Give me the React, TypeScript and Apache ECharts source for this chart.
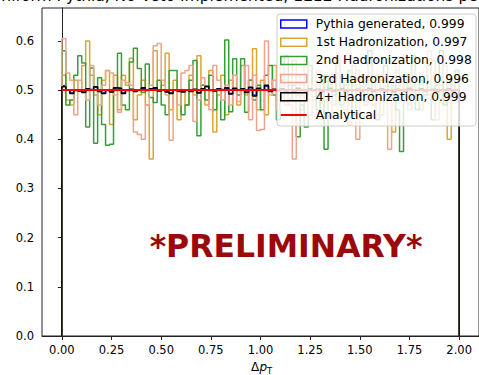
import React, { useEffect, useRef } from "react";
import * as echarts from "echarts";

const BIN_MIN = 0;
const BIN_MAX = 2;

const xTicks = [0, 0.25, 0.5, 0.75, 1.0, 1.25, 1.5, 1.75, 2.0];
const yTicks = [0, 0.1, 0.2, 0.3, 0.4, 0.5, 0.6];

const seriesNames = [
  "Pythia generated, 0.999",
  "1st Hadronization, 0.997",
  "2nd Hadronization, 0.998",
  "3rd Hadronization, 0.996",
  "4+ Hadronization, 0.999",
  "Analytical",
];

const pythiaVals = [
  0.509, 0.501, 0.494, 0.499, 0.499, 0.496, 0.502, 0.501, 0.506, 0.498, 0.494, 0.501, 0.497, 0.504, 0.503, 0.494, 0.500, 0.501, 0.498, 0.501, 0.504, 0.499, 0.502, 0.504, 0.499,
  0.501, 0.497, 0.494, 0.501, 0.497, 0.497, 0.501, 0.498, 0.501, 0.495, 0.502, 0.507, 0.499, 0.499, 0.502, 0.501, 0.504, 0.493, 0.503, 0.501, 0.502, 0.496, 0.505, 0.490, 0.503,
  0.501, 0.508, 0.498, 0.501, 0.500, 0.502, 0.499, 0.500, 0.497, 0.503, 0.501, 0.498, 0.502, 0.500, 0.501, 0.497, 0.500, 0.503, 0.499, 0.501, 0.502, 0.498, 0.500, 0.500, 0.501,
  0.499, 0.500, 0.503, 0.498, 0.501, 0.502, 0.499, 0.500, 0.497, 0.501, 0.501, 0.498, 0.503, 0.500, 0.500, 0.502, 0.499, 0.501, 0.501, 0.498, 0.500, 0.500, 0.502, 0.499, 0.501,
];

const firstVals = [
  0.53, 0.48, 0.47, 0.52, 0.50, 0.55, 0.60, 0.53, 0.49, 0.45, 0.52, 0.54, 0.43, 0.53, 0.46, 0.53, 0.51, 0.565, 0.44, 0.49, 0.52, 0.47, 0.36, 0.58, 0.50,
  0.51, 0.575, 0.46, 0.52, 0.44, 0.50, 0.47, 0.53, 0.49, 0.57, 0.51, 0.47, 0.54, 0.415, 0.49, 0.53, 0.45, 0.52, 0.50, 0.47, 0.55, 0.49, 0.52, 0.584, 0.46,
  0.52, 0.45, 0.50, 0.55, 0.48, 0.53, 0.47, 0.51, 0.56, 0.49, 0.46, 0.52, 0.54, 0.48, 0.51, 0.44, 0.53, 0.50, 0.47, 0.55, 0.49, 0.52, 0.43, 0.51, 0.54,
  0.48, 0.51, 0.56, 0.47, 0.53, 0.45, 0.52, 0.50, 0.415, 0.54, 0.49, 0.52, 0.47, 0.55, 0.50, 0.46, 0.53, 0.49, 0.56, 0.48, 0.51, 0.47, 0.40, 0.52, 0.50,
];

const secondVals = [
  0.58, 0.47, 0.48, 0.53, 0.57, 0.555, 0.425, 0.545, 0.392, 0.525, 0.43, 0.388, 0.39, 0.50, 0.575, 0.47, 0.46, 0.557, 0.585, 0.544, 0.495, 0.553, 0.485, 0.475, 0.52,
  0.47, 0.45, 0.54, 0.54, 0.50, 0.45, 0.47, 0.52, 0.56, 0.407, 0.51, 0.48, 0.53, 0.46, 0.50, 0.44, 0.602, 0.456, 0.564, 0.49, 0.564, 0.455, 0.52, 0.48, 0.51,
  0.46, 0.53, 0.55, 0.49, 0.44, 0.52, 0.57, 0.48, 0.51, 0.405, 0.47, 0.425, 0.55, 0.50, 0.46, 0.53, 0.38, 0.52, 0.49, 0.56, 0.47, 0.51, 0.54, 0.45, 0.50,
  0.53, 0.47, 0.58, 0.49, 0.44, 0.52, 0.55, 0.48, 0.51, 0.46, 0.375, 0.53, 0.50, 0.57, 0.46, 0.52, 0.49, 0.55, 0.44, 0.51, 0.58, 0.47, 0.52, 0.49, 0.54,
];

const thirdVals = [
  0.605, 0.535, 0.52, 0.45, 0.52, 0.50, 0.48, 0.55, 0.50, 0.47, 0.51, 0.54, 0.535, 0.49, 0.455, 0.52, 0.515, 0.51, 0.415, 0.41, 0.40, 0.47, 0.51, 0.59, 0.595,
  0.52, 0.49, 0.398, 0.50, 0.47, 0.535, 0.54, 0.55, 0.436, 0.48, 0.525, 0.50, 0.46, 0.55, 0.52, 0.48, 0.51, 0.47, 0.53, 0.477, 0.50, 0.55, 0.44, 0.53, 0.418,
  0.42, 0.60, 0.49, 0.52, 0.46, 0.55, 0.50, 0.47, 0.36, 0.53, 0.49, 0.56, 0.45, 0.51, 0.54, 0.48, 0.50, 0.44, 0.53, 0.57, 0.49, 0.46, 0.52, 0.55, 0.40,
  0.51, 0.47, 0.55, 0.50, 0.45, 0.53, 0.49, 0.38, 0.52, 0.56, 0.48, 0.51, 0.46, 0.54, 0.50, 0.47, 0.53, 0.58, 0.49, 0.44, 0.52, 0.55, 0.48, 0.51, 0.50,
];

const fourPlusVals = [
  0.507, 0.500, 0.493, 0.500, 0.498, 0.495, 0.503, 0.500, 0.507, 0.497, 0.493, 0.500, 0.496, 0.505, 0.504, 0.493, 0.499, 0.502, 0.497, 0.500, 0.505, 0.500, 0.503, 0.505, 0.498,
  0.500, 0.496, 0.493, 0.500, 0.498, 0.496, 0.500, 0.497, 0.502, 0.494, 0.503, 0.508, 0.500, 0.498, 0.503, 0.500, 0.505, 0.492, 0.504, 0.500, 0.503, 0.495, 0.506, 0.488, 0.504,
  0.500, 0.510, 0.497, 0.502, 0.499, 0.503, 0.498, 0.501, 0.496, 0.504, 0.500, 0.497, 0.503, 0.499, 0.502, 0.496, 0.501, 0.504, 0.498, 0.500, 0.503, 0.497, 0.501, 0.499, 0.502,
  0.498, 0.501, 0.504, 0.497, 0.500, 0.503, 0.498, 0.501, 0.496, 0.502, 0.500, 0.497, 0.504, 0.499, 0.501, 0.503, 0.498, 0.500, 0.502, 0.497, 0.501, 0.499, 0.503, 0.498, 0.500,
];

const analyticalValue = 0.5;

const COLORS = ["#0000ff", "#dea52e", "#34a034", "#eea48c", "#000000", "#ff0000"];

function stepData(vals: number[]): number[][] {
  const n = vals.length;
  const w = (BIN_MAX - BIN_MIN) / n;
  const pts: number[][] = [[BIN_MIN, 0]];
  vals.forEach((v, i) => {
    pts.push([BIN_MIN + i * w, v]);
    pts.push([BIN_MIN + (i + 1) * w, v]);
  });
  pts.push([BIN_MAX, 0]);
  return pts;
}

const FONT = "DejaVu Sans";

export default function App() {
  const ref = useRef<HTMLDivElement>(null);
  useEffect(() => {
    if (!ref.current) return;
    const chart = echarts.init(ref.current, undefined, { renderer: "svg" });
    const hist = [pythiaVals, firstVals, secondVals, thirdVals, fourPlusVals];
    const series: any[] = hist.map((vals, i) => ({
      name: seriesNames[i],
      type: "line",
      data: stepData(vals),
      symbol: "none",
      lineStyle: { color: COLORS[i], width: 1.5 },
      itemStyle: { color: COLORS[i] },
      z: 2 + i * 0.01,
      clip: true,
    }));
    series.push({
      name: seriesNames[5],
      type: "line",
      data: [
        [BIN_MIN, analyticalValue],
        [BIN_MAX, analyticalValue],
      ],
      symbol: "none",
      lineStyle: { color: COLORS[5], width: 2 },
      itemStyle: { color: COLORS[5] },
      z: 2.1,
    });

    const legendData = seriesNames.map((name, i) =>
      i < 5
        ? {
            name,
            icon: "rect",
            itemStyle: { color: "rgba(0,0,0,0)", borderColor: COLORS[i], borderWidth: 1.5 },
          }
        : {
            name,
            icon: "path://M0,0 L26,0 L26,2 L0,2 Z",
            itemStyle: { color: COLORS[i], borderWidth: 0 },
          }
    );

    chart.setOption({
      animation: false,
      grid: {
        left: 42,
        top: 8,
        width: 441,
        height: 328,
        show: true,
        borderColor: "#222",
        borderWidth: 1,
        backgroundColor: "transparent",
      },
      xAxis: {
        type: "value",
        min: -0.1,
        max: 2.1,
        axisLine: { show: true, lineStyle: { color: "#222", width: 1 } },
        axisTick: {
          show: true,
          inside: false,
          length: 4,
          customValues: xTicks,
          lineStyle: { color: "#222" },
        },
        axisLabel: {
          customValues: xTicks,
          formatter: (v: number) => v.toFixed(2),
          fontFamily: FONT,
          fontSize: 11.5,
          color: "#000",
          margin: 8,
        },
        splitLine: { show: false },
      },
      yAxis: {
        type: "value",
        min: 0,
        max: 0.667,
        axisLine: { show: true, lineStyle: { color: "#222", width: 1 } },
        axisTick: {
          show: true,
          inside: false,
          length: 4,
          customValues: yTicks,
          lineStyle: { color: "#222" },
        },
        axisLabel: {
          customValues: yTicks,
          formatter: (v: number) => v.toFixed(1),
          fontFamily: FONT,
          fontSize: 11.5,
          color: "#000",
          margin: 8,
        },
        splitLine: { show: false },
      },
      legend: {
        orient: "vertical",
        left: 276,
        top: 14,
        padding: [2.5, 4, 4, 4],
        itemWidth: 26,
        itemHeight: 8,
        itemGap: 3.2,
        data: legendData,
        textStyle: {
          fontFamily: FONT,
          fontSize: 12.3,
          color: "#000",
          lineHeight: 15,
          padding: [0, 0, 0, 4],
        },
        selectedMode: false,
        z: 6,
      },
      graphic: [
        {
          type: "rect",
          z: 5,
          shape: { x: 277, y: 14, width: 199, height: 112, r: 3 },
          style: { fill: "rgba(255,255,255,0.8)", stroke: "#cccccc", lineWidth: 1 },
        },
        {
          type: "text",
          x: -10,
          y: 4,
          style: {
            text: "Uniform Pythia, No Veto Implemented, 1E12 Hadronizations per Bin",
            fontFamily: FONT,
            fontSize: 15.5,
            fill: "#000",
            textAlign: "left",
            textVerticalAlign: "bottom",
          },
        },
        {
          type: "text",
          x: 286,
          y: 246,
          z: 1,
          style: {
            text: "*PRELIMINARY*",
            fontFamily: FONT,
            fontSize: 31.5,
            fontWeight: "bold",
            fill: "#9b0a0a",
            textAlign: "center",
            textVerticalAlign: "middle",
          },
        },
        {
          type: "text",
          x: 251,
          y: 367,
          style: { text: "Δ", fontFamily: FONT, fontSize: 12, fill: "#000", textVerticalAlign: "middle" },
        },
        {
          type: "text",
          x: 259.5,
          y: 367,
          style: {
            text: "p",
            fontFamily: FONT,
            fontSize: 12,
            fontStyle: "italic",
            fill: "#000",
            textVerticalAlign: "middle",
          },
        },
        {
          type: "text",
          x: 267,
          y: 371,
          style: { text: "T", fontFamily: FONT, fontSize: 8.5, fill: "#000", textVerticalAlign: "middle" },
        },
      ],
      series,
    });
    return () => chart.dispose();
  }, []);
  return (
    <div
      ref={ref}
      style={{ position: "absolute", left: 0, top: 0, width: 479, height: 375 }}
    />
  );
}
